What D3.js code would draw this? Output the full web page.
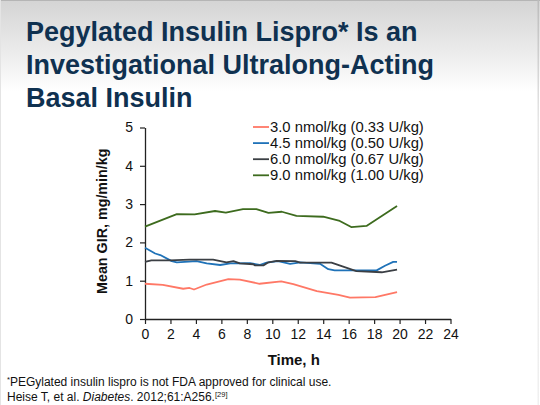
<!DOCTYPE html>
<html>
<head>
<meta charset="utf-8">
<script src="https://cdn.jsdelivr.net/npm/d3@7"></script>
<style>
  html, body { margin: 0; padding: 0; background: #fff; }
  svg { display: block; font-family: "Liberation Sans", Arial, sans-serif; }
</style>
</head>
<body>
<svg id="chart" width="540" height="405"></svg>
<script>
// ---- Data ----
const titleLines = ["Pegylated Insulin Lispro* Is an", "Investigational Ultralong-Acting", "Basal Insulin"];
const seriesNames = ["3.0 nmol/kg (0.33 U/kg)", "4.5 nmol/kg (0.50 U/kg)", "6.0 nmol/kg (0.67 U/kg)", "9.0 nmol/kg (1.00 U/kg)"];
const seriesColors = ["#ff7866", "#1f72b8", "#3b3f44", "#3d6b1e"];

const time30 = [0, 1.4, 3.0, 3.5, 3.85, 4.85, 6.55, 7.45, 9.0, 10.7, 11.65, 13.5, 15.2, 16.1, 18.1, 19.8];
const gir30  = [0.92, 0.89, 0.79, 0.81, 0.77, 0.90, 1.04, 1.03, 0.92, 0.98, 0.91, 0.73, 0.63, 0.56, 0.57, 0.70];

const time45 = [0, 0.8, 1.2, 2.1, 2.5, 4.05, 4.85, 5.9, 6.7, 8.25, 9.0, 9.55, 10.45, 11.4, 12.2, 13.75, 14.4, 14.9, 18.2, 18.85, 19.5, 19.8];
const gir45  = [1.86, 1.71, 1.67, 1.51, 1.48, 1.51, 1.45, 1.41, 1.45, 1.46, 1.41, 1.47, 1.51, 1.44, 1.48, 1.44, 1.30, 1.27, 1.27, 1.39, 1.49, 1.49];

const time60 = [0, 0.5, 1.95, 3.5, 5.35, 6.4, 6.95, 7.45, 8.5, 8.65, 9.3, 9.7, 10.35, 11.8, 12.2, 14.65, 16.6, 18.6, 19.8];
const gir60  = [1.49, 1.53, 1.53, 1.55, 1.55, 1.48, 1.51, 1.45, 1.43, 1.40, 1.40, 1.48, 1.52, 1.51, 1.47, 1.47, 1.25, 1.22, 1.29];

const time90 = [0, 2.5, 3.9, 5.5, 6.35, 7.7, 8.75, 9.7, 10.75, 11.9, 14.0, 15.3, 16.2, 17.4, 19.8];
const gir90  = [2.41, 2.74, 2.73, 2.82, 2.78, 2.87, 2.87, 2.77, 2.80, 2.69, 2.67, 2.56, 2.40, 2.43, 2.95];

const xTicks = [0, 2, 4, 6, 8, 10, 12, 14, 16, 18, 20, 22, 24];
const yTicks = [0, 1, 2, 3, 4, 5];

const seriesTimes = [time30, time45, time60, time90];
const seriesValues = [gir30, gir45, gir60, gir90];

// ---- Drawing ----
const svg = d3.select("#chart");
const W = 540, H = 405;

// background gradient (slide header)
const defs = svg.append("defs");
const grad = defs.append("linearGradient").attr("id", "hdr").attr("x1", 0).attr("y1", 0).attr("x2", 0).attr("y2", 1);
grad.append("stop").attr("offset", "0%").attr("stop-color", "#d4d4d4");
grad.append("stop").attr("offset", "60%").attr("stop-color", "#ededed");
grad.append("stop").attr("offset", "100%").attr("stop-color", "#ffffff");
svg.append("rect").attr("x", 0).attr("y", 0).attr("width", W).attr("height", H).attr("fill", "#fff");
svg.append("rect").attr("x", 0).attr("y", 0).attr("width", W).attr("height", 92).attr("fill", "url(#hdr)");
// frame lines
svg.append("line").attr("x1", 0).attr("x2", W).attr("y1", 0.5).attr("y2", 0.5).attr("stroke", "#b5b5b5");
svg.append("line").attr("x1", 0.5).attr("x2", 0.5).attr("y1", 0).attr("y2", H).attr("stroke", "#e4e4e4");
const rgrad = defs.append("linearGradient").attr("id", "rgt").attr("x1", 0).attr("y1", 0).attr("x2", 0).attr("y2", 1);
rgrad.append("stop").attr("offset", "0%").attr("stop-color", "#bcbcbc");
rgrad.append("stop").attr("offset", "30%").attr("stop-color", "#e6e6e6");
rgrad.append("stop").attr("offset", "100%").attr("stop-color", "#f0f0f0");
svg.append("rect").attr("x", 537.5).attr("y", 0).attr("width", 1.5).attr("height", H).attr("fill", "url(#rgt)");

// title
const title = svg.append("text")
  .attr("x", 26).attr("y", 41)
  .attr("fill", "#0f3150")
  .attr("font-size", 27).attr("font-weight", "bold");
titleLines.forEach((t, i) => {
  title.append("tspan").attr("x", 26).attr("y", 41 + i * 33.2).text(t);
});

// scales
const x = d3.scaleLinear().domain([0, 24]).range([145, 450.5]);
const y = d3.scaleLinear().domain([0, 5]).range([319, 127.5]);

// axes
const xAxis = d3.axisBottom(x).tickValues(xTicks).tickFormat(d3.format("d")).tickSize(5).tickPadding(5).tickSizeOuter(0);
const yAxis = d3.axisLeft(y).tickValues(yTicks).tickFormat(d3.format("d")).tickSize(5).tickPadding(7).tickSizeOuter(0);

const gx = svg.append("g").attr("transform", `translate(0,${y(0)})`).call(xAxis);
const gy = svg.append("g").attr("transform", `translate(${x(0)},0)`).call(yAxis);
[gx, gy].forEach(g => {
  g.select(".domain").attr("stroke", "#222").attr("stroke-width", 1.3);
  g.selectAll(".tick line").attr("stroke", "#222").attr("stroke-width", 1.2);
  g.selectAll(".tick text").attr("fill", "#111").attr("font-size", 14)
    .attr("font-family", "'Liberation Sans', Arial, sans-serif");
});

// axis titles
svg.append("text")
  .attr("transform", `translate(107,${(y(0) + y(5)) / 2 - 2}) rotate(-90)`)
  .attr("text-anchor", "middle")
  .attr("font-size", 14.3).attr("font-weight", "bold").attr("fill", "#111")
  .text("Mean GIR, mg/min/kg");
svg.append("text")
  .attr("x", (x(0) + x(24)) / 2 - 4).attr("y", 365)
  .attr("text-anchor", "middle")
  .attr("font-size", 15).attr("font-weight", "bold").attr("fill", "#111")
  .text("Time, h");

// lines
const line = d3.line().x(d => x(d[0])).y(d => y(d[1]));
seriesNames.forEach((name, i) => {
  const pts = seriesTimes[i].map((t, j) => [t, seriesValues[i][j]]);
  svg.append("path").datum(pts)
    .attr("d", line)
    .attr("fill", "none")
    .attr("stroke", seriesColors[i])
    .attr("stroke-width", 1.8)
    .attr("stroke-linejoin", "round");
});

// legend
const lg = svg.append("g");
seriesNames.forEach((name, i) => {
  const ly = 127 + i * 16.1;
  lg.append("line").attr("x1", 253).attr("x2", 269).attr("y1", ly).attr("y2", ly)
    .attr("stroke", seriesColors[i]).attr("stroke-width", 1.8);
  lg.append("text").attr("x", 270).attr("y", ly + 5)
    .attr("font-size", 14.8).attr("fill", "#111").text(name);
});

// footnotes
const f1 = svg.append("text").attr("x", 7).attr("y", 385.5).attr("font-size", 12).attr("fill", "#111");
f1.append("tspan").attr("font-size", 7.5).attr("dy", -4).text("*");
f1.append("tspan").attr("dy", 4).text("PEGylated insulin lispro is not FDA approved for clinical use.");
const f2 = svg.append("text").attr("x", 7).attr("y", 400.5).attr("font-size", 12).attr("fill", "#111");
f2.append("tspan").text("Heise T, et al. ");
f2.append("tspan").attr("font-style", "italic").text("Diabetes");
f2.append("tspan").text(". 2012;61:A256.");
f2.append("tspan").attr("font-size", 7.5).attr("dy", -4).text("[29]");
</script>
</body>
</html>
